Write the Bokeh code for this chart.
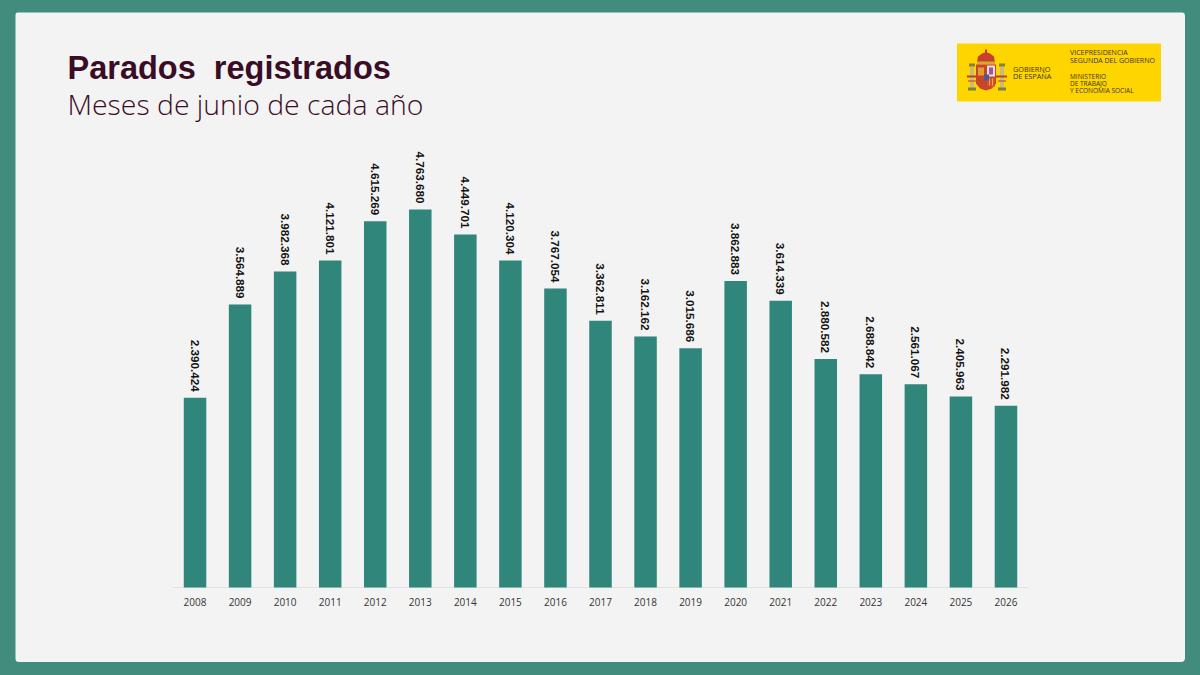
from bokeh.embed import file_html
from bokeh.resources import INLINE
from bokeh.plotting import figure
from bokeh.models import ColumnDataSource, Label, BoxAnnotation, PolyAnnotation, Range1d, FactorRange
from bokeh.core.properties import value
import math

years = ["2008","2009","2010","2011","2012","2013","2014","2015","2016","2017","2018","2019","2020","2021","2022","2023","2024","2025","2026"]
parados = [2390424,3564889,3982368,4121801,4615269,4763680,4449701,4120304,3767054,3362811,3162162,3015686,3862883,3614339,2880582,2688842,2561067,2405963,2291982]
labels = ["2.390.424","3.564.889","3.982.368","4.121.801","4.615.269","4.763.680","4.449.701","4.120.304","3.767.054","3.362.811","3.162.162","3.015.686","3.862.883","3.614.339","2.880.582","2.688.842","2.561.067","2.405.963","2.291.982"]

OX, OY = 15, 12   # page position of the panel
TEAL = "#428c7e"; PANEL = "#f3f3f3"; BAR = "#31867b"; PLUM = "#3a0c26"
PX_PER_VALUE = 378 / 4763680
STEP = 45.05

p = figure(width=1170, height=650,
           x_range=FactorRange(factors=years, range_padding=157/STEP, range_padding_units="absolute"),
           y_range=Range1d(-75/PX_PER_VALUE, 575/PX_PER_VALUE), output_backend="svg", toolbar_location=None,
           min_border=0, background_fill_color=PANEL, border_fill_color=PANEL, outline_line_color=None,
           margin=(OY, 0, 0, OX))
p.styles = {"border-radius": "4px", "overflow": "hidden"}
p.grid.visible = False
p.yaxis.visible = False
p.xaxis.fixed_location = 0
p.xaxis.axis_line_color = None
p.xaxis.major_tick_line_color = None
p.xaxis.minor_tick_line_color = None
p.xaxis.major_label_text_font = "Open Sans"
p.xaxis.major_label_text_font_size = "10px"
p.xaxis.major_label_text_color = "#333333"
p.xaxis.major_label_standoff = 4

src = ColumnDataSource(dict(year=years, v=parados, lab=labels))
p.line(x=[(years[0], -0.5), (years[-1], 0.5)], y=[0, 0], line_color="#e2e2e2", line_width=1)
p.vbar(x="year", top="v", width=22.5/STEP, source=src, fill_color=BAR, line_color=None)
p.text(x="year", y="v", text="lab", source=src, angle=-math.pi/2, text_align="right",
       text_baseline="middle", x_offset=-0.5, y_offset=-6, text_font=value("Liberation Sans"),
       text_font_style="bold", text_font_size="11.7px", text_color="#111111")

AX, AY = OX + 0.5, OY   # canvas units of annotations, from page pixels

def txt(s, x, y, font, size, color, style="normal"):
    p.add_layout(Label(x=x-AX, y=y-AY, x_units="canvas", y_units="canvas", text=s, text_font=font,
                       text_font_size=size, text_color=color, text_font_style=style,
                       text_baseline="middle", text_align="left", level="overlay"))

def box(l, t, r, b, c):
    p.add_layout(BoxAnnotation(left=l-AX, right=r-AX, top=t-AY, bottom=b-AY, left_units="canvas",
                               right_units="canvas", top_units="canvas", bottom_units="canvas",
                               fill_color=c, fill_alpha=1, line_color=None, level="annotation"))

def poly(pts, c):
    p.add_layout(PolyAnnotation(xs=[a-AX for a, _ in pts], ys=[b-AY for _, b in pts], xs_units="canvas",
                                ys_units="canvas", fill_color=c, fill_alpha=1, line_color=None, level="annotation"))

txt("Parados\u00a0\u00a0registrados", 67.5, 67, "Liberation Sans", "32.5px", PLUM, "bold")
txt("Meses de junio de cada año", 67.5, 103.5, "'Open Sans Light','Open Sans'", "28.4px", PLUM)

# government logo
box(957, 43, 1161, 101, "#ffd500")
# pillars and ribbons
box(970, 66, 974, 87, "#c9bb7a")
box(1000, 66, 1004, 87, "#c9bb7a")
box(969, 63, 975, 66, "#8c7f3c")
box(999, 63, 1005, 66, "#8c7f3c")
box(968, 87, 976, 90, "#7c8040")
box(998, 87, 1006, 90, "#7c8040")
box(967, 75, 977, 77, "#c23a2a")
box(995, 75, 1007, 77, "#c23a2a")
box(968, 80, 976, 81, "#c23a2a")
box(998, 80, 1006, 81, "#c23a2a")
# crown
poly([(977, 62), (978, 56), (982, 53), (985, 52), (985, 49), (987, 49), (987, 52), (990, 53), (994, 56), (995, 62)], "#c8402c")
box(977, 61, 995, 64, "#d8a830")
# shield
poly([(976, 64), (996, 64), (996, 83), (992, 88), (986, 90), (980, 88), (976, 83)], "#c8452a")
box(987, 65, 995, 76, "#ecdce4")
box(989, 67, 993, 74, "#9a5a90")
box(987, 77, 995, 86, "#d05030")
box(989, 78, 990, 85, "#e8b040")
box(992, 78, 993, 85, "#e8b040")
box(978, 67, 984, 75, "#e0a030")
box(984, 74, 989, 80, "#4a5a9a")
txt("GOBIERNO", 1013, 68, "Open Sans", "7.3px", "#3a3320")
txt("DE ESPAÑA", 1013, 75, "Open Sans", "7.3px", "#3a3320")
txt("VICEPRESIDENCIA", 1070, 52, "Open Sans", "7px", "#3a3320")
txt("SEGUNDA DEL GOBIERNO", 1070, 59.5, "Open Sans", "7px", "#3a3320")
txt("MINISTERIO", 1070, 75.5, "Open Sans", "6.5px", "#3a3320")
txt("DE TRABAJO", 1070, 82.5, "Open Sans", "6.5px", "#3a3320")
txt("Y ECONOMÍA SOCIAL", 1070, 89.5, "Open Sans", "6.5px", "#3a3320")

html = file_html(p, INLINE)
html = html.replace("<head>", "<head><style>html,body{background:%s;}</style>" % TEAL, 1)
open("out.html", "w").write(html)
